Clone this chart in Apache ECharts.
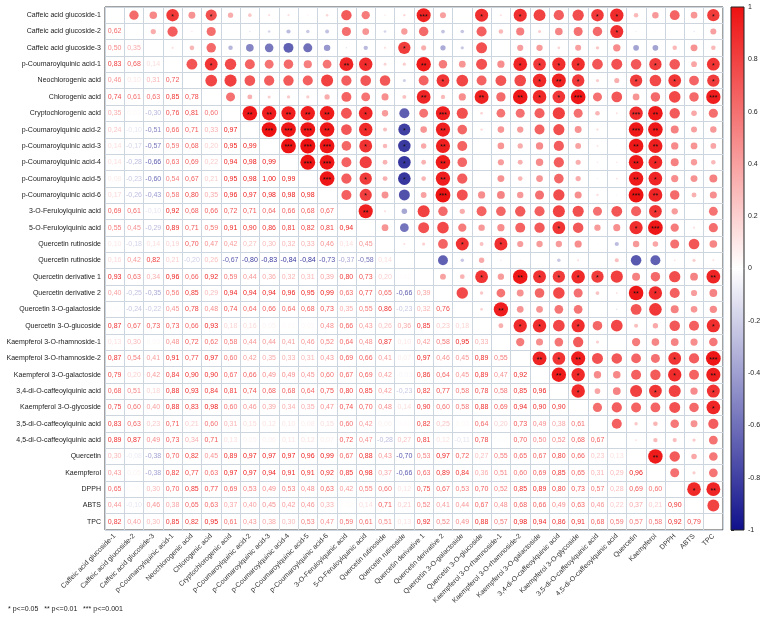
<!DOCTYPE html>
<html><head><meta charset="utf-8">
<script src="https://cdn.jsdelivr.net/npm/echarts@6/dist/echarts.min.js"></script>
<style>html,body{margin:0;padding:0;background:#fff}#c{width:771px;height:622px}</style>
</head><body><div id="c"></div>
<script>
const variables = ['Caffeic acid glucoside-1','Caffeic acid glucoside-2','Caffeic acid glucoside-3','p-Coumaroylquinic acid-1','Neochlorogenic acid','Chlorogenic acid','Cryptochlorogenic acid','p-Coumaroylquinic acid-2','p-Coumaroylquinic acid-3','p-Coumaroylquinic acid-4','p-Coumaroylquinic acid-5','p-Coumaroylquinic acid-6','3-O-Feruloylquinic acid','5-O-Feruloylquinic acid','Quercetin rutinoside','Quercetin rutinoside','Quercetin derivative 1','Quercetin derivative 2','Quercetin 3-O-galactoside','Quercetin 3-O-glucoside','Kaempferol 3-O-rhamnoside-1','Kaempferol 3-O-rhamnoside-2','Kaempferol 3-O-galactoside','3,4-di-O-caffeoylquinic acid','Kaempferol 3-O-glycoside','3,5-di-O-caffeoylquinic acid','4,5-di-O-caffeoylquinic acid','Quercetin','Kaempferol','DPPH','ABTS','TPC'];

// lower triangle: row i holds correlations with columns 0..i-1
const corrLower = [
[],
[0.62],
[0.50,0.35],
[0.83,0.68,0.14],
[0.46,0.10,0.31,0.72],
[0.74,0.61,0.63,0.85,0.78],
[0.35,0.03,-0.30,0.76,0.81,0.60],
[0.24,-0.10,-0.51,0.66,0.71,0.33,0.97],
[0.14,-0.17,-0.57,0.59,0.68,0.20,0.95,0.99],
[0.14,-0.28,-0.66,0.63,0.69,0.22,0.94,0.98,0.99],
[0.08,-0.23,-0.60,0.54,0.67,0.21,0.95,0.98,1.00,0.99],
[0.17,-0.26,-0.43,0.58,0.80,0.35,0.96,0.97,0.98,0.98,0.98],
[0.69,0.61,-0.10,0.92,0.68,0.66,0.72,0.71,0.64,0.66,0.68,0.67],
[0.55,0.45,-0.29,0.89,0.71,0.59,0.91,0.90,0.86,0.81,0.82,0.81,0.94],
[0.10,-0.18,0.14,0.19,0.70,0.47,0.42,0.27,0.30,0.32,0.33,0.46,0.14,0.45],
[0.16,0.42,0.82,0.21,-0.20,0.26,-0.67,-0.80,-0.83,-0.84,-0.84,-0.73,-0.37,-0.58,0.14],
[0.93,0.63,0.34,0.96,0.66,0.92,0.59,0.44,0.36,0.32,0.31,0.39,0.80,0.73,0.20,0.02],
[0.40,-0.25,-0.35,0.56,0.85,0.29,0.94,0.94,0.94,0.96,0.95,0.99,0.63,0.77,0.65,-0.66,0.39],
[0.02,-0.24,-0.22,0.45,0.78,0.48,0.74,0.64,0.66,0.64,0.68,0.73,0.35,0.55,0.86,-0.23,0.32,0.76],
[0.87,0.67,0.73,0.73,0.66,0.93,0.18,0.16,0.05,0.02,0.03,0.48,0.66,0.43,0.26,0.36,0.85,0.23,0.18],
[0.13,0.30,0.03,0.48,0.72,0.62,0.58,0.44,0.44,0.41,0.46,0.52,0.64,0.48,0.87,0.10,0.42,0.58,0.95,0.33],
[0.87,0.54,0.41,0.91,0.77,0.97,0.60,0.42,0.35,0.33,0.31,0.43,0.69,0.66,0.41,0.07,0.97,0.46,0.45,0.89,0.55],
[0.79,0.20,0.42,0.84,0.90,0.90,0.67,0.66,0.49,0.49,0.45,0.60,0.67,0.69,0.42,-0.03,0.86,0.64,0.45,0.89,0.47,0.92],
[0.68,0.51,0.18,0.88,0.93,0.84,0.81,0.74,0.68,0.68,0.64,0.75,0.80,0.85,0.42,-0.23,0.82,0.77,0.58,0.78,0.58,0.85,0.96],
[0.75,0.60,0.40,0.88,0.83,0.98,0.60,0.46,0.39,0.34,0.35,0.47,0.74,0.70,0.48,0.14,0.90,0.60,0.58,0.88,0.69,0.94,0.90,0.90],
[0.83,0.63,0.23,0.71,0.21,0.60,0.31,0.15,0.12,0.10,0.08,0.15,0.60,0.42,0.06,0.02,0.82,0.25,0.03,0.64,0.20,0.73,0.49,0.38,0.61],
[0.89,0.87,0.49,0.73,0.34,0.71,0.13,0.05,0.06,0.11,0.12,0.07,0.72,0.47,-0.28,0.27,0.81,0.12,-0.11,0.78,0.02,0.70,0.50,0.52,0.68,0.67],
[0.30,-0.08,-0.38,0.70,0.82,0.45,0.89,0.97,0.97,0.97,0.96,0.99,0.67,0.88,0.43,-0.70,0.53,0.97,0.72,0.27,0.55,0.65,0.67,0.80,0.66,0.23,0.13],
[0.43,0.05,-0.38,0.82,0.77,0.63,0.97,0.97,0.94,0.91,0.91,0.92,0.85,0.98,0.37,-0.66,0.63,0.89,0.84,0.36,0.51,0.60,0.69,0.85,0.65,0.31,0.29,0.96],
[0.65,0.02,0.30,0.70,0.85,0.77,0.69,0.53,0.49,0.53,0.48,0.63,0.42,0.55,0.60,0.12,0.75,0.67,0.53,0.70,0.52,0.85,0.89,0.80,0.73,0.57,0.28,0.69,0.60],
[0.44,-0.10,0.46,0.38,0.65,0.63,0.37,0.40,0.45,0.42,0.46,0.33,0.02,0.14,0.71,0.21,0.52,0.41,0.44,0.67,0.48,0.68,0.66,0.49,0.63,0.46,0.22,0.37,0.21,0.90],
[0.82,0.40,0.30,0.85,0.82,0.95,0.61,0.43,0.38,0.30,0.53,0.47,0.59,0.61,0.51,0.13,0.92,0.52,0.49,0.88,0.57,0.98,0.94,0.86,0.91,0.68,0.59,0.57,0.58,0.92,0.79]
];

// significance marks in the upper triangle: [row, column, number of stars]
const sigMarks = [
[0,3,1],[0,5,1],[0,16,3],[0,19,1],[0,21,1],[0,25,1],[0,26,1],[0,31,1],
[1,26,1],[2,15,1],
[3,5,1],[3,12,2],[3,13,1],[3,16,2],[3,21,1],[3,22,1],[3,23,1],[3,24,1],[3,28,1],[3,31,1],
[4,17,1],[4,22,1],[4,23,2],[4,24,1],[4,27,1],[4,29,1],[4,31,1],
[5,16,2],[5,19,2],[5,21,2],[5,22,1],[5,23,1],[5,24,3],[5,31,3],
[6,7,2],[6,8,2],[6,9,2],[6,10,2],[6,11,2],[6,13,1],[6,17,3],[6,27,3],[6,28,2],
[7,8,3],[7,9,3],[7,10,3],[7,11,2],[7,13,1],[7,15,1],[7,17,2],[7,27,3],[7,28,2],
[8,9,3],[8,10,3],[8,11,3],[8,13,1],[8,15,1],[8,17,2],[8,27,2],[8,28,2],
[9,10,3],[9,11,3],[9,15,1],[9,17,2],[9,27,2],[9,28,1],
[10,11,3],[10,13,1],[10,15,1],[10,17,2],[10,27,2],[10,28,1],
[11,13,1],[11,17,3],[11,27,3],[11,28,2],
[12,13,2],[12,28,1],
[13,23,1],[13,27,1],[13,28,3],
[14,18,1],[14,20,1],
[16,19,1],[16,21,2],[16,22,1],[16,23,1],[16,24,1],[16,25,1],[16,31,2],
[17,27,2],[17,28,1],
[18,20,2],
[19,21,1],[19,22,1],[19,24,1],[19,31,1],
[21,22,2],[21,23,1],[21,24,2],[21,29,1],[21,31,3],
[22,23,2],[22,24,1],[22,29,1],[22,31,2],
[23,24,1],[23,28,1],[23,31,1],
[24,31,1],
[27,28,2],
[29,30,1],[29,31,2]
];

const colorbarTicks = [-1,-0.8,-0.6,-0.4,-0.2,0,0.2,0.4,0.6,0.8,1];
const footnote = '* p<=0.05   ** p<=0.01   *** p<=0.001';

const RED = '#ee1111', WHITE = '#ffffff', BLUE = '#10108c';
const n = variables.length;
function corr(i, j) { return i > j ? corrLower[i][j] : corrLower[j][i]; }
const starOf = {};
sigMarks.forEach(function (m) { starOf[m[0] + '_' + m[1]] = m[2]; });
const cells = [];
for (let i = 0; i < n; i++) {
  for (let j = 0; j < n; j++) {
    if (i === j) continue;
    const upper = j > i ? 1 : 0;
    cells.push([j, i, corr(i, j), upper, upper ? (starOf[i + '_' + j] || 0) : 0]);
  }
}
function fmt(v) { return v.toFixed(2).replace('.', ','); }

const chart = echarts.init(document.getElementById('c'), null, {renderer: 'canvas'});
const FONT = '"Liberation Sans", Arial, sans-serif';
chart.setOption({
  backgroundColor: '#fff',
  animation: false,
  grid: [
    {left: 105, top: 7, width: 618, height: 523, show: true, borderColor: '#444', borderWidth: 1, backgroundColor: 'transparent'},
    {left: 731, top: 7, width: 13, height: 523, show: false}
  ],
  xAxis: [
    {type: 'category', data: variables, gridIndex: 0, position: 'bottom',
     axisLine: {show: false}, axisTick: {show: false},
     splitLine: {show: true, interval: 0, lineStyle: {color: '#cdd5de', width: 1}},
     axisLabel: {interval: 0, rotate: 45, fontSize: 7, color: '#333', fontFamily: FONT, margin: 5}},
    {type: 'value', gridIndex: 1, min: 0, max: 1, show: false}
  ],
  yAxis: [
    {type: 'category', data: variables, gridIndex: 0, inverse: true,
     axisLine: {show: false}, axisTick: {show: false},
     splitLine: {show: true, interval: 0, lineStyle: {color: '#cdd5de', width: 1}},
     axisLabel: {interval: 0, fontSize: 7, color: '#222', fontFamily: FONT, margin: 4}},
    {type: 'value', gridIndex: 1, min: -1, max: 1, interval: 0.2, position: 'right',
     axisLine: {show: false}, axisTick: {show: true, length: 3, lineStyle: {color: '#333'}},
     splitLine: {show: false},
     axisLabel: {fontSize: 7, color: '#222', fontFamily: FONT, margin: 4,
       formatter: function (v) {
         const t = colorbarTicks.find(function (k) { return Math.abs(k - v) < 1e-6; });
         return t === undefined ? '' : String(t);
       }}}
  ],
  visualMap: {
    show: false, type: 'continuous', min: -1, max: 1, dimension: 2, seriesIndex: 0,
    inRange: {color: [BLUE, WHITE, RED]}
  },
  graphic: [
    {type: 'text', left: 8, top: 606, style: {text: footnote, font: '7px ' + FONT, fill: '#222'}}
  ],
  series: [
    {
      type: 'custom', coordinateSystem: 'cartesian2d', xAxisIndex: 0, yAxisIndex: 0,
      data: cells, encode: {x: 0, y: 1},
      renderItem: function (params, api) {
        const v = api.value(2), upper = api.value(3), stars = api.value(4);
        const c = api.coord([api.value(0), api.value(1)]);
        const sz = api.size([1, 1]);
        const color = api.visual('color');
        if (!upper) {
          return {type: 'text', style: {text: fmt(v), x: c[0], y: c[1], fill: color,
            font: '7px ' + FONT, align: 'center', verticalAlign: 'middle'}};
        }
        const rad = Math.abs(v) * Math.min(sz[0], sz[1]) * 0.46;
        const children = [{type: 'circle', shape: {cx: c[0], cy: c[1], r: rad}, style: {fill: color}}];
        if (stars > 0) {
          children.push({type: 'text', style: {text: '*'.repeat(stars), x: c[0], y: c[1] + 1.5,
            fill: '#111', font: '7px ' + FONT, align: 'center', verticalAlign: 'middle'}});
        }
        return {type: 'group', children: children};
      }
    },
    {
      type: 'custom', coordinateSystem: 'cartesian2d', xAxisIndex: 1, yAxisIndex: 1,
      data: [[0, 0]], silent: true,
      renderItem: function (params, api) {
        const cs = params.coordSys;
        return {type: 'rect', shape: {x: cs.x, y: cs.y, width: cs.width, height: cs.height},
          style: {stroke: '#222', lineWidth: 1,
            fill: new echarts.graphic.LinearGradient(0, 0, 0, 1, [
              {offset: 0, color: RED}, {offset: 0.5, color: WHITE}, {offset: 1, color: BLUE}])}};
      }
    }
  ]
});
</script></body></html>
